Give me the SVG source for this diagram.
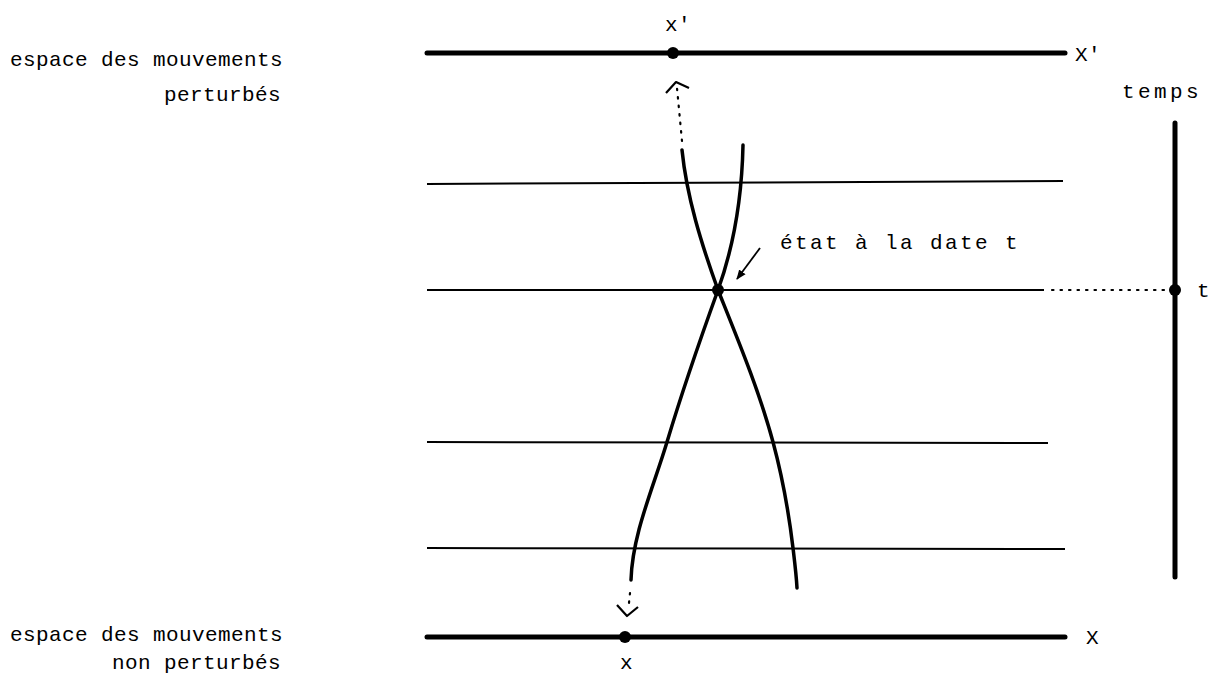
<svg xmlns="http://www.w3.org/2000/svg" width="1213" height="675" viewBox="0 0 1213 675">
<defs>
<style>
.t{font-family:"Liberation Mono","DejaVu Sans Mono",monospace;font-size:21px;fill:#000;letter-spacing:0.4px}
.thick{stroke:#000;stroke-width:5;stroke-linecap:round;fill:none}
.thin{stroke:#000;stroke-width:2;fill:none}
.curve{stroke:#000;stroke-width:3.5;fill:none;stroke-linecap:round}
.dot{stroke:#000;stroke-width:2.2;stroke-dasharray:1.5 7;stroke-linecap:round;fill:none}
.chev{stroke:#000;stroke-width:2.2;fill:none;stroke-linejoin:round}
</style>
<marker id="ah" markerWidth="12" markerHeight="10" refX="9" refY="5" orient="auto" markerUnits="userSpaceOnUse">
<path d="M0,1 L10,5 L0,9 Z" fill="#000"/>
</marker>
</defs>
<rect width="1213" height="675" fill="#fff"/>

<g id="labels-left">
<text class="t" x="10" y="66">espace des mouvements</text>
<text class="t" x="281" y="101" text-anchor="end">perturbés</text>
<text class="t" x="10" y="641">espace des mouvements</text>
<text class="t" x="281" y="669" text-anchor="end">non perturbés</text>
</g>

<g id="perturbed-axis">
<line class="thick" x1="427" y1="53" x2="1065" y2="53"/>
<circle cx="673" cy="53" r="6"/>
<text class="t" x="665" y="31">x'</text>
<text class="t" x="1075" y="61">X'</text>
</g>

<g id="unperturbed-axis">
<line class="thick" x1="427" y1="637" x2="1065" y2="637"/>
<circle cx="625" cy="637" r="6"/>
<text class="t" x="620" y="669">x</text>
<text class="t" x="1086" y="644">X</text>
</g>

<g id="time-axis">
<line class="thick" x1="1175" y1="123" x2="1175" y2="577"/>
<circle cx="1175" cy="290" r="6"/>
<text class="t" x="1122" y="98" style="letter-spacing:3.4px">temps</text>
<text class="t" x="1197" y="297">t</text>
</g>

<g id="time-lines">
<line class="thin" x1="427" y1="184" x2="1063" y2="181"/>
<line class="thin" x1="427" y1="290" x2="1044" y2="290"/>
<line class="thin" x1="427" y1="442" x2="1048" y2="443"/>
<line class="thin" x1="427" y1="548" x2="1065" y2="549"/>
</g>

<g id="trajectories">
<path class="curve" d="M682,150 C686.7,196.7 701.2,243.3 718,290 C738.3,340.7 759.3,391.3 773,442 C782.5,477.3 788.8,512.7 793,548 C794.6,561.3 796.3,574.7 797,588"/>
<path class="curve" d="M743,145 C742,193.3 735.4,241.7 718,290 C699.7,340.7 682.2,391.3 667,442 C653.2,488 632.4,534 631,580"/>
<circle cx="718" cy="290" r="6"/>
</g>

<g id="state-label">
<text class="t" x="780" y="249" style="letter-spacing:2.4px">état à la date t</text>
</g>

<g id="connectors">
<line class="dot" x1="682" y1="141" x2="677" y2="88"/>
<path class="chev" d="M666,93 L676,82 L689,88"/>
<line class="dot" x1="630" y1="593" x2="629" y2="603"/>
<path class="chev" d="M617,605 L627,616 L638,607"/>
<line class="dot" x1="1052" y1="290" x2="1166" y2="290"/>
<line stroke="#000" stroke-width="1.8" x1="760" y1="248" x2="737" y2="279" marker-end="url(#ah)"/>
</g>
</svg>
